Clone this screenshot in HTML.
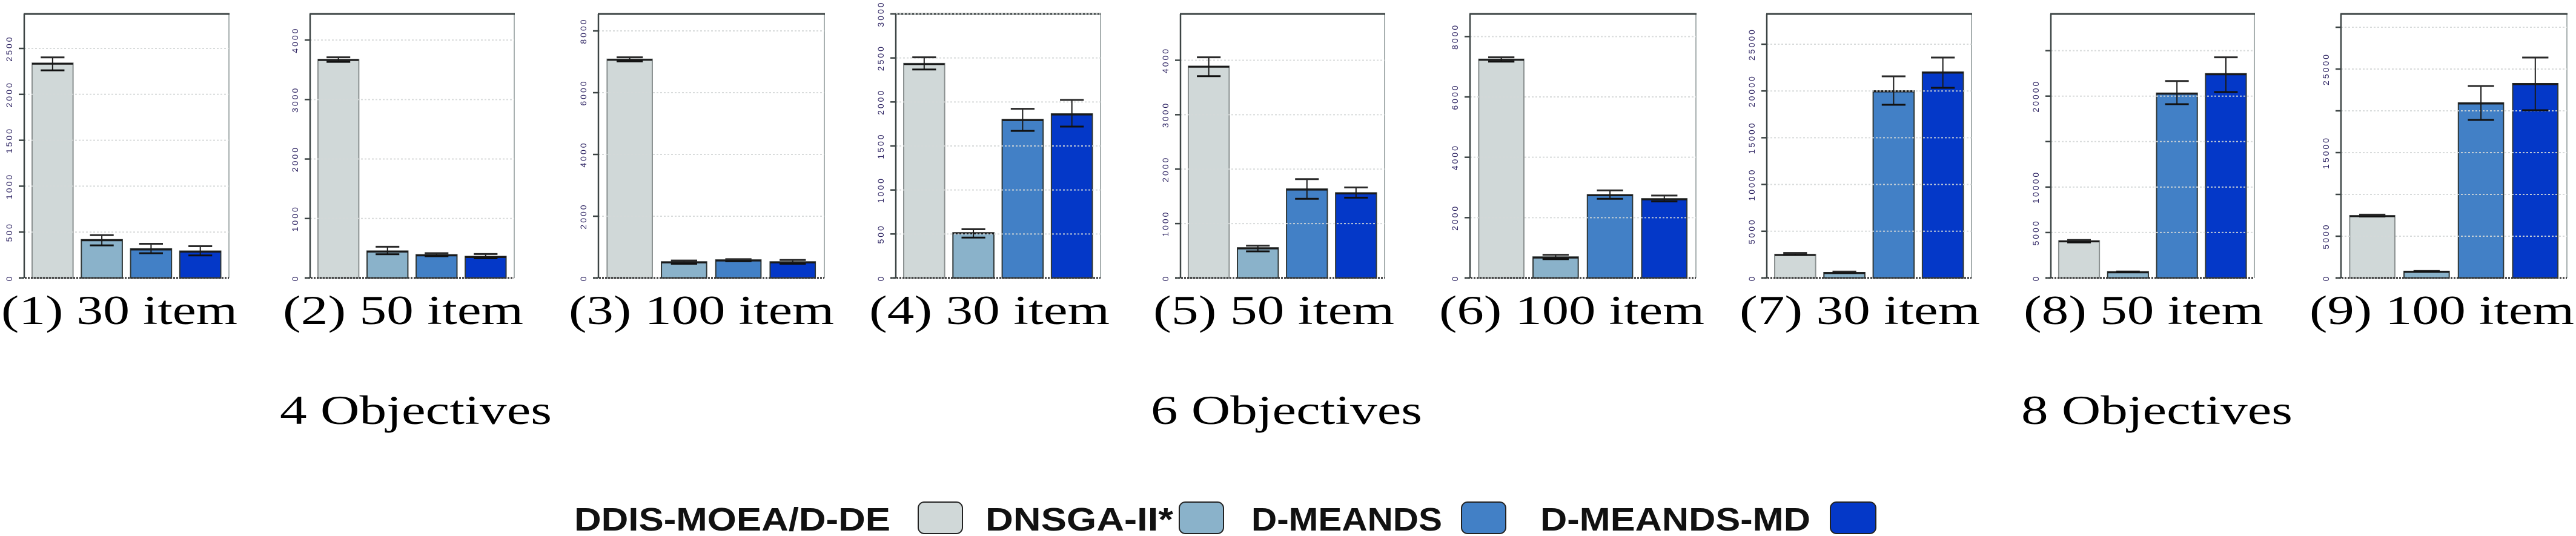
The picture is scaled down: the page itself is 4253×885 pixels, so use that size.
<!DOCTYPE html>
<html><head><meta charset="utf-8"><style>
html,body{margin:0;padding:0;background:#fff;}
svg{display:block;}
</style></head><body>
<svg id="chart" width="4253" height="885" viewBox="0 0 4253 885" xmlns="http://www.w3.org/2000/svg">
<g id="panels"></g>
<g id="captions" font-family="Liberation Serif, serif" fill="#000">
<text x="2" y="535" font-size="68" textLength="390" lengthAdjust="spacingAndGlyphs">(1)  30 item</text>
<text x="467" y="535" font-size="68" textLength="397" lengthAdjust="spacingAndGlyphs">(2)  50 item</text>
<text x="939" y="535" font-size="68" textLength="438" lengthAdjust="spacingAndGlyphs">(3)  100 item</text>
<text x="1435" y="535" font-size="68" textLength="397" lengthAdjust="spacingAndGlyphs">(4)  30 item</text>
<text x="1904" y="535" font-size="68" textLength="398" lengthAdjust="spacingAndGlyphs">(5)  50 item</text>
<text x="2376" y="535" font-size="68" textLength="438" lengthAdjust="spacingAndGlyphs">(6)  100 item</text>
<text x="2872" y="535" font-size="68" textLength="397" lengthAdjust="spacingAndGlyphs">(7)  30 item</text>
<text x="3341" y="535" font-size="68" textLength="396" lengthAdjust="spacingAndGlyphs">(8)  50 item</text>
<text x="3813" y="535" font-size="68" textLength="437" lengthAdjust="spacingAndGlyphs">(9)  100 item</text>
<text x="462" y="700" font-size="68" textLength="449" lengthAdjust="spacingAndGlyphs">4 Objectives</text>
<text x="1900" y="700" font-size="68" textLength="448" lengthAdjust="spacingAndGlyphs">6 Objectives</text>
<text x="3337" y="700" font-size="68" textLength="448" lengthAdjust="spacingAndGlyphs">8 Objectives</text>
</g>
<g id="legend" font-family="Liberation Sans, DejaVu Sans, sans-serif" font-weight="bold" font-size="54" fill="#111">
<text x="948" y="876" textLength="522" lengthAdjust="spacingAndGlyphs">DDIS-MOEA/D-DE</text>
<rect x="1516" y="829" width="73" height="52" rx="10" fill="#d0d8d8" stroke="#222" stroke-width="2"/>
<text x="1627" y="876" textLength="310" lengthAdjust="spacingAndGlyphs">DNSGA-II*</text>
<rect x="1947" y="829" width="73" height="52" rx="10" fill="#8ab2ca" stroke="#222" stroke-width="2"/>
<text x="2066" y="876" textLength="315" lengthAdjust="spacingAndGlyphs">D-MEANDS</text>
<rect x="2413" y="829" width="73" height="52" rx="10" fill="#4280c6" stroke="#222" stroke-width="2"/>
<text x="2543" y="876" textLength="446" lengthAdjust="spacingAndGlyphs">D-MEANDS-MD</text>
<rect x="3022" y="829" width="75" height="52" rx="10" fill="#0438c8" stroke="#222" stroke-width="2"/>
</g>
</svg>
<script>
// ---- data ----
const seriesNames = ["DDIS-MOEA/D-DE","DNSGA-II*","D-MEANDS","D-MEANDS-MD"];
const panelLabels = ["4obj-30","4obj-50","4obj-100","6obj-30","6obj-50","6obj-100","8obj-30","8obj-50","8obj-100"];
const means = [
  [2340, 417, 317, 293],
  [3674, 453, 390, 362],
  [7084, 523, 584, 523],
  [2437, 514, 1800, 1864],
  [3891, 554, 1634, 1564],
  [7250, 696, 2759, 2625],
  [2521, 583, 20013, 22020],
  [4089, 681, 20326, 22459],
  [7464, 797, 20942, 23261]
];
const errHigh = [
  [2403, 467, 373, 346],
  [3710, 525, 417, 403],
  [7145, 567, 611, 584],
  [2507, 554, 1922, 2023],
  [4054, 594, 1817, 1663],
  [7313, 768, 2902, 2732],
  [2682, 692, 21570, 23576],
  [4178, 720, 21659, 24267],
  [7578, 840, 22970, 26377]
];
const errLow = [
  [2262, 355, 270, 246],
  [3633, 399, 367, 331],
  [7014, 462, 541, 462],
  [2369, 459, 1671, 1720],
  [3708, 490, 1455, 1475],
  [7170, 625, 2625, 2536],
  [2480, 519, 18520, 20337],
  [3911, 640, 19111, 20444],
  [7351, 760, 18913, 20072]
];
const yMax = [2876, 4439, 8550, 3000, 4851, 8750, 28238, 29037, 31594];
const tickValues = [
  [0,500,1000,1500,2000,2500],
  [0,1000,2000,3000,4000],
  [0,2000,4000,6000,8000],
  [0,500,1000,1500,2000,2500,3000],
  [0,1000,2000,3000,4000],
  [0,2000,4000,6000,8000],
  [0,5000,10000,15000,20000,25000],
  [0,5000,10000,15000,20000,25000],
  [0,5000,10000,15000,20000,25000,30000]
];
const tickLabels = [
  ["0","500","1000","1500","2000","2500"],
  ["0","1000","2000","3000","4000"],
  ["0","2000","4000","6000","8000"],
  ["0","500","1000","1500","2000","2500","3000"],
  ["0","1000","2000","3000","4000"],
  ["0","2000","4000","6000","8000"],
  ["0","5000","10000","15000","20000","25000"],
  ["0","5000","10000","","20000",""],
  ["0","5000","","15000","","25000",""]
];
// ---- layout (not data) ----
const frameLeft = [40, 512, 988, 1479, 1949, 2427, 2917, 3386, 3865];
const frameRight = [378, 849, 1361, 1817, 2286, 2800, 3255, 3722, 4238];
const colors = ["#d0d8d8","#8ab2ca","#4280c6","#0438c8"];
const TOP = 23, BOT = 459;
const NS = "http://www.w3.org/2000/svg";
const root = document.getElementById('panels');
function mk(tag, attrs, parent){
  const e = document.createElementNS(NS, tag);
  for (const k in attrs) e.setAttribute(k, attrs[k]);
  parent.appendChild(e);
  return e;
}
for (let p = 0; p < means.length; p++){
  const xl = frameLeft[p], xr = frameRight[p], pw = xr - xl;
  const yScale = v => BOT - v / yMax[p] * (BOT - TOP);
  const xBar = i => xl + pw * 0.0385 + i * pw * 0.2405;
  const bw = pw * 0.2;
  const g = mk('g', {}, root);
  
  
  // frame
  const fr = mk('line', {x1:xr, y1:TOP, x2:xr, y2:BOT, stroke:'#a8b0b0', 'stroke-width':2}, g);
  
  
  const ft = mk('line', {x1:xl-1, y1:TOP, x2:xr+1, y2:TOP, stroke:'#3c4444', 'stroke-width':3}, g);
  
  
  // bars
  for (let i = 0; i < 4; i++){
    const v = means[p][i];
    const x = xBar(i), y = yScale(v);
    const r = mk('rect', {x:x, y:y, width:bw, height:BOT - y, fill:colors[i], stroke:(i===0?'#8a9090':'#303838'), 'stroke-width':2}, g);
    
    
    const tl = mk('line', {x1:x, y1:y+1, x2:x+bw, y2:y+1, stroke:'#1a1a1a', 'stroke-width':3}, g);
    
    
  }
  // gridlines (drawn over bars, dotted)
  for (let t = 1; t < tickValues[p].length; t++){
    const y = yScale(tickValues[p][t]);
    const gl = mk('line', {x1:xl, y1:y, x2:xr, y2:y, stroke:'#d4d8d8', 'stroke-width':2, 'stroke-dasharray':'3 3', opacity:0.9}, g);
    
    
  }
  // error bars
  for (let i = 0; i < 4; i++){
    const cx = xBar(i) + bw/2, cw = bw * 0.29;
    const yh = yScale(errHigh[p][i]), yl = yScale(errLow[p][i]);
    const vl = mk('line', {x1:cx, y1:yh, x2:cx, y2:yl, stroke:'#1a1a1a', 'stroke-width':2}, g);
    
    
    const c1 = mk('line', {x1:cx-cw, y1:yh, x2:cx+cw, y2:yh, stroke:'#2a2a2a', 'stroke-width':3}, g);
    
    
    const c2 = mk('line', {x1:cx-cw, y1:yl, x2:cx+cw, y2:yl, stroke:'#111', 'stroke-width':3}, g);
    
    
  }
  // y axis
  const ax = mk('line', {x1:xl, y1:TOP, x2:xl, y2:BOT, stroke:'#3c4444', 'stroke-width':2.5}, g);
  
  
  const bx = mk('line', {x1:xl-9, y1:BOT, x2:xr, y2:BOT, stroke:'#333', 'stroke-width':3, 'stroke-dasharray':'3 2'}, g);
  
  
  for (let t = 0; t < tickValues[p].length; t++){
    const y = yScale(tickValues[p][t]);
    const tk = mk('line', {x1:xl-9, y1:y, x2:xl, y2:y, stroke:'#3c4444', 'stroke-width':2.5}, g);
    
    
    if (tickLabels[p][t]){
      const lx = xl - 20;
      const tx = mk('text', {x:lx, y:y, transform:'rotate(-90 '+lx+' '+y+')', 'text-anchor':'middle', 'font-family':'Liberation Sans, sans-serif', 'font-size':14, 'letter-spacing':3, fill:'#2a2060'}, g);
      
      
      tx.textContent = tickLabels[p][t];
    }
  }
}
</script>
</body></html>
